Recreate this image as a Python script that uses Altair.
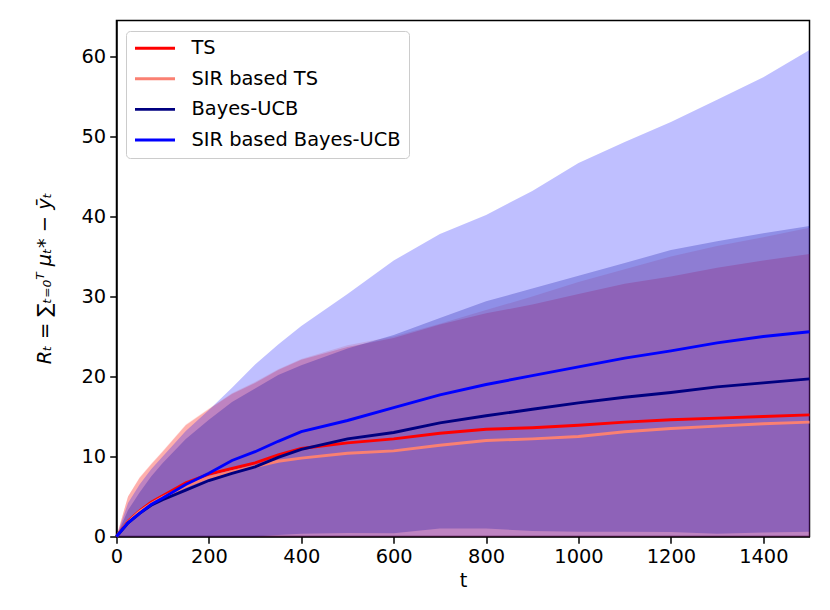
import altair as alt
import pandas as pd

# time grid (steps)
t = [0, 25, 50, 75, 100, 150, 200, 250, 300, 350, 400, 500, 600, 700, 800,
     900, 1000, 1100, 1200, 1300, 1400, 1500]

names = ["TS", "SIR based TS", "Bayes-UCB", "SIR based Bayes-UCB"]
colors = ["red", "salmon", "navy", "blue"]

# mean regret curves
ts_mean = [0, 1.9, 3.2, 4.3, 5.1, 6.7, 7.8, 8.5, 9.2, 10.2, 11.0, 11.7, 12.2,
           12.9, 13.4, 13.6, 13.9, 14.3, 14.6, 14.8, 15.0, 15.2]
sir_ts_mean = [0, 1.8, 3.1, 4.1, 4.9, 6.3, 7.4, 8.1, 8.75, 9.4, 9.8, 10.4,
               10.7, 11.4, 12.0, 12.2, 12.5, 13.1, 13.5, 13.8, 14.1, 14.3]
bucb_mean = [0, 1.7, 2.9, 3.9, 4.6, 5.8, 7.0, 7.9, 8.7, 9.9, 10.9, 12.2, 13.0,
             14.2, 15.1, 15.9, 16.7, 17.4, 18.0, 18.7, 19.2, 19.7]
sir_bucb_mean = [0, 1.7, 2.9, 4.0, 4.8, 6.5, 7.9, 9.5, 10.6, 11.9, 13.1, 14.5,
                 16.1, 17.7, 19.0, 20.1, 21.2, 22.3, 23.2, 24.2, 25.0, 25.6]

# upper edges of the shaded bands
ts_upper = [0, 5.0, 7.3, 9.0, 10.6, 13.9, 15.9, 17.8, 19.2, 20.8, 22.1, 23.7,
            24.8, 26.5, 27.9, 29.0, 30.3, 31.6, 32.5, 33.6, 34.5, 35.3]
sir_ts_upper = [0, 5.0, 7.4, 9.1, 10.7, 14.0, 16.0, 17.9, 19.3, 20.9, 22.2,
                23.9, 25.0, 26.6, 28.3, 30.0, 31.8, 33.4, 35.0, 36.3, 37.4, 38.6]
bucb_upper = [0, 3.3, 5.5, 7.5, 9.2, 12.2, 14.6, 16.8, 18.5, 20.2, 21.4, 23.5,
              25.2, 27.3, 29.4, 31.0, 32.6, 34.2, 35.8, 36.9, 37.9, 38.8]
sir_bucb_upper = [0, 4.2, 6.5, 8.4, 10.0, 13.2, 15.8, 18.6, 21.5, 24.0, 26.3,
                  30.3, 34.5, 37.8, 40.2, 43.2, 46.7, 49.3, 51.8, 54.6, 57.4, 60.8]

# lower edges of the shaded bands (clipped at the axis floor)
ts_lower = [0] * len(t)
sir_ts_lower = [0] * len(t)
bucb_lower = [0, 0, 0, 0, 0, 0, 0, 0, 0, 0.2, 0.35, 0.45, 0.4, 1.0, 1.0, 0.7,
              0.6, 0.6, 0.55, 0.35, 0.5, 0.6]
sir_bucb_lower = [0] * len(t)

means = [ts_mean, sir_ts_mean, bucb_mean, sir_bucb_mean]
uppers = [ts_upper, sir_ts_upper, bucb_upper, sir_bucb_upper]
lowers = [ts_lower, sir_ts_lower, bucb_lower, sir_bucb_lower]

x_ticks = [0, 200, 400, 600, 800, 1000, 1200, 1400]
y_ticks = [0, 10, 20, 30, 40, 50, 60]

FS = 19.4

x_scale = alt.Scale(domain=[0, 1500], nice=False, zero=False)
y_scale = alt.Scale(domain=[0, 64.5], nice=False)

x_axis = alt.Axis(values=x_ticks, format="d", title="t",
                  titlePadding=6, labelFlush=False)
y_axis = alt.Axis(values=y_ticks, format="d",
                  title="Rₜ = ∑ₜ₌₀ᵀ μₜ* − ȳₜ", labelFlush=False,
                  titleX=-72, titleY=257.5, titleBaseline="middle",
                  titleAlign="center", titleFontStyle="italic")

layers = []
for i, name in enumerate(names):
    band = pd.DataFrame({"t": t, "lo": lowers[i], "hi": uppers[i]})
    layers.append(
        alt.Chart(band).mark_area(color=colors[i], opacity=0.25, interpolate="linear")
        .encode(x=alt.X("t:Q", scale=x_scale, axis=x_axis),
                y=alt.Y("lo:Q", scale=y_scale, axis=y_axis),
                y2="hi:Q")
    )

rows = []
for i, name in enumerate(names):
    for tt, m in zip(t, means[i]):
        rows.append({"t": tt, "mean": m, "method": name, "k": i})
lines_df = pd.DataFrame(rows)

lines = alt.Chart(lines_df).mark_line(strokeWidth=2.9).encode(
    x=alt.X("t:Q", scale=x_scale, axis=x_axis),
    y=alt.Y("mean:Q", scale=y_scale, axis=y_axis),
    color=alt.Color(
        "method:N",
        scale=alt.Scale(domain=names, range=colors),
        legend=alt.Legend(
            title=None, orient="none", legendX=9.5, legendY=10.5,
            symbolType="stroke", symbolSize=1600, symbolStrokeWidth=2.9,
            clipHeight=FS, rowPadding=9.6, labelFontSize=FS,
            labelFont="DejaVu Sans", labelColor="black", labelOffset=15,
            labelLimit=0, padding=7.5, fillColor="rgba(255,255,255,0.8)",
            strokeColor="#cccccc", cornerRadius=4,
        ),
    ),
    detail="k:O",
)
layers.append(lines)

chart = alt.layer(*layers).properties(
    width=693, height=516,
    padding={"left": 108.5, "top": 12.5, "right": 10, "bottom": 62},
    autosize=alt.AutoSizeParams(type="none"),
).configure_view(
    stroke="black", strokeWidth=1.5
).configure_axis(
    domainColor="black", domainWidth=1.5, tickColor="black", tickWidth=1.5,
    tickSize=6.8, labelFont="DejaVu Sans", labelFontSize=FS, labelColor="black",
    titleFont="DejaVu Sans", titleFontSize=FS, titleFontWeight="normal",
    titleColor="black", grid=False, labelPadding=4,
)

chart.save("out.html", embed_options={"renderer": "svg", "actions": False})
